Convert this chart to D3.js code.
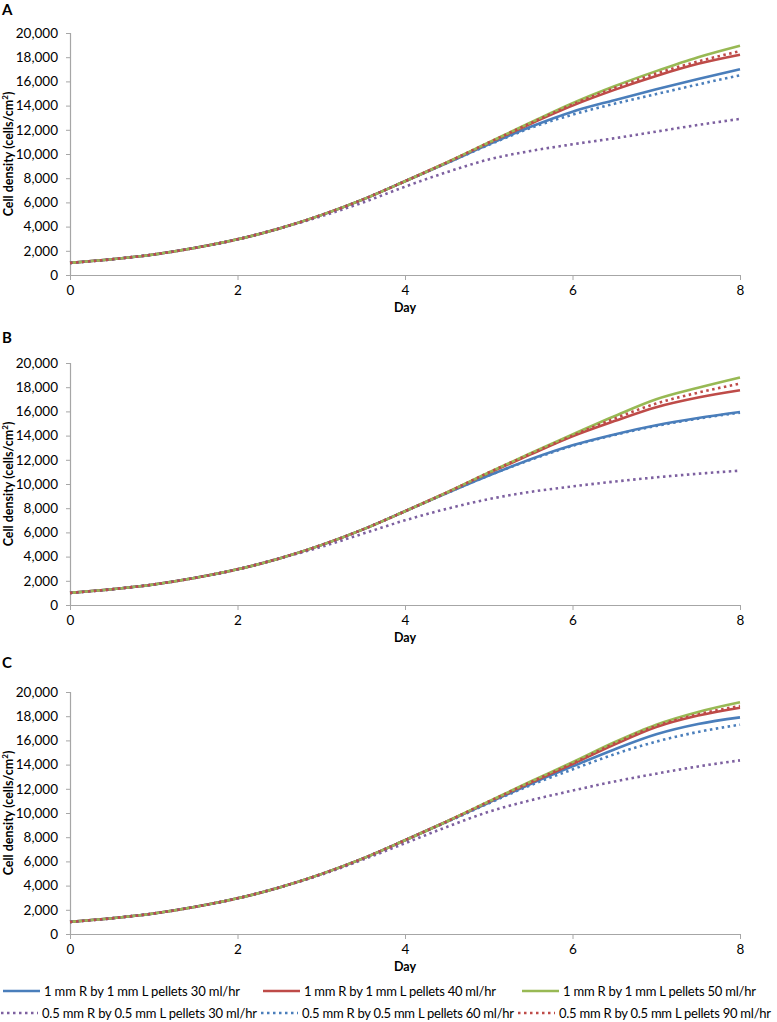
<!DOCTYPE html>
<html><head><meta charset="utf-8">
<script src="https://cdn.jsdelivr.net/npm/d3@7"></script>
<style>body{margin:0;background:#fff}svg{display:block}text{font-family:Lato,"Open Sans",sans-serif}</style>
</head><body>
<svg id="c" width="777" height="1022"></svg>
<script>
const days = [0,0.5,1,1.5,2,2.5,3,3.5,4,4.5,5,5.5,6,6.5,7,7.5,8];
const xTicks = [0,2,4,6,8];
const yTicks = [0,2000,4000,6000,8000,10000,12000,14000,16000,18000,20000];
const seriesNames = [
  "1 mm R by 1 mm L pellets 30 ml/hr",
  "1 mm R by 1 mm L pellets 40 ml/hr",
  "1 mm R by 1 mm L pellets 50 ml/hr",
  "0.5 mm R by 0.5 mm L pellets 30 ml/hr",
  "0.5 mm R by 0.5 mm L pellets 60 ml/hr",
  "0.5 mm R by 0.5 mm L pellets 90 ml/hr"
];
const panelLabels = ["A","B","C"];

// Panel A
const A_blue1   = [1000,1300,1700,2250,2950,3850,4950,6250,7750,9250,10800,12250,13500,14450,15350,16200,17000];
const A_red1    = [1000,1300,1700,2250,2950,3850,4950,6250,7750,9300,10900,12500,14000,15300,16450,17450,18200];
const A_green1  = [1000,1300,1700,2250,2950,3850,4950,6250,7750,9300,10950,12600,14200,15600,16850,18000,18950];
const A_purple05= [1000,1300,1700,2250,2950,3850,4850,6000,7300,8500,9550,10250,10800,11300,11850,12400,12900];
const A_blue05  = [1000,1300,1700,2250,2950,3850,4950,6250,7750,9250,10750,12150,13250,14150,14950,15750,16500];
const A_red05   = [1000,1300,1700,2250,2950,3850,4950,6250,7750,9300,10950,12550,14100,15450,16650,17650,18500];
// Panel B
const B_blue1   = [1000,1300,1700,2250,2950,3850,4950,6250,7750,9250,10700,12050,13200,14100,14850,15450,15950];
const B_red1    = [1000,1300,1700,2250,2950,3850,4950,6250,7750,9300,10900,12450,13950,15200,16350,17150,17750];
const B_green1  = [1000,1300,1700,2250,2950,3850,4950,6250,7750,9300,10950,12550,14100,15600,17000,17950,18800];
const B_purple05= [1000,1300,1700,2250,2950,3850,4800,5900,7000,7950,8750,9350,9800,10200,10550,10850,11100];
const B_blue05  = [1000,1300,1700,2250,2950,3850,4950,6250,7750,9250,10700,12000,13150,14050,14800,15400,15900];
const B_red05   = [1000,1300,1700,2250,2950,3850,4950,6250,7750,9300,10950,12500,14000,15400,16650,17550,18300];
// Panel C
const C_blue1   = [1000,1300,1700,2250,2950,3850,4950,6250,7750,9300,10850,12400,13850,15250,16500,17350,17900];
const C_red1    = [1000,1300,1700,2250,2950,3850,4950,6250,7750,9300,10900,12500,14050,15650,17100,18050,18700];
const C_green1  = [1000,1300,1700,2250,2950,3850,4950,6250,7750,9300,10950,12600,14200,15850,17300,18350,19150];
const C_purple05= [1000,1300,1700,2250,2950,3850,4900,6150,7500,8850,10100,11050,11850,12600,13250,13850,14350];
const C_blue05  = [1000,1300,1700,2250,2950,3850,4950,6250,7750,9250,10800,12300,13600,14850,15900,16700,17300];
const C_red05   = [1000,1300,1700,2250,2950,3850,4950,6250,7750,9300,10950,12550,14100,15750,17200,18150,18850];

const panelData = [
  [A_blue1,A_red1,A_green1,A_purple05,A_blue05,A_red05],
  [B_blue1,B_red1,B_green1,B_purple05,B_blue05,B_red05],
  [C_blue1,C_red1,C_green1,C_purple05,C_blue05,C_red05]
];
const colors = ["#4a7ebb","#be4b48","#98b954","#7d60a0","#4a7ebb","#be4b48"];
const dotted = [false,false,false,true,true,true];

const svg = d3.select("#c");
const left = 70, right = 740, ph = 242;
const tops = [33, 363, 692];
const labelY = [15, 343, 668];
const x = d3.scaleLinear().domain([0,8]).range([left,right]);

panelData.forEach((ser, pi) => {
  const top = tops[pi];
  const y = d3.scaleLinear().domain([0,20000]).range([top+ph, top]);
  const g = svg.append("g");
  g.append("text").attr("x",2).attr("y",labelY[pi]).attr("font-weight","bold")
   .attr("font-size",15).attr("fill","#000").text(panelLabels[pi]);
  const ya = g.append("g").attr("transform",`translate(${left},0)`)
    .call(d3.axisLeft(y).tickValues(yTicks).tickSize(4).tickPadding(8).tickFormat(d3.format(",")));
  ya.select(".domain").attr("stroke","#a6a6a6").attr("stroke-width",1.2);
  ya.selectAll(".tick line").attr("stroke","#a6a6a6");
  ya.selectAll(".tick text").attr("font-size",13.5).attr("fill","#000").attr("font-family","Lato, sans-serif");
  const xa = g.append("g").attr("transform",`translate(0,${top+ph})`)
    .call(d3.axisBottom(x).tickValues(xTicks).tickSize(5).tickSizeOuter(0).tickPadding(5).tickFormat(d3.format("d")));
  xa.select(".domain").attr("stroke","#a6a6a6").attr("stroke-width",1.2);
  xa.selectAll(".tick line").attr("stroke","#a6a6a6");
  xa.selectAll(".tick text").attr("font-size",13.5).attr("fill","#000").attr("font-family","Lato, sans-serif");
  g.append("text").attr("x",(left+right)/2).attr("y",top+ph+37).attr("text-anchor","middle")
   .attr("font-weight","bold").attr("font-size",12.5).text("Day");
  const yl = g.append("text").attr("transform",`translate(13,${top+ph/2}) rotate(-90)`)
   .attr("text-anchor","middle").attr("font-weight","bold").attr("font-size",12.5);
  yl.append("tspan").text("Cell density (cells/cm");
  yl.append("tspan").attr("font-size",8).attr("dy",-5).text("2");
  yl.append("tspan").attr("dy",5).text(")");
  const line = d3.line().x((d,i)=>x(days[i])).y(d=>y(d)).curve(d3.curveMonotoneX);
  ser.forEach((vals, si) => {
    g.append("path").attr("d", line(vals)).attr("fill","none")
     .attr("stroke", colors[si]).attr("stroke-width", 2.6)
     .attr("stroke-dasharray", dotted[si] ? "2.5,3.5" : null);
  });
});

// legend
const legendPos = [
  {x0:3, y:991, w:196}, {x0:263, y:991, w:192}, {x0:522, y:991, w:193},
  {x0:1, y:1013, w:215}, {x0:261, y:1013, w:212}, {x0:518, y:1013, w:212}
];
seriesNames.forEach((name, si) => {
  const p = legendPos[si];
  svg.append("line").attr("x1",p.x0).attr("x2",p.x0+37).attr("y1",p.y).attr("y2",p.y)
    .attr("stroke",colors[si]).attr("stroke-width",2.6)
    .attr("stroke-dasharray", dotted[si] ? "2.5,3.5" : null);
  svg.append("text").attr("x",p.x0+41).attr("y",p.y+4.5).attr("font-size",13)
    .attr("fill","#000").attr("textLength",p.w).attr("lengthAdjust","spacing").text(name);
});
</script>
</body></html>
